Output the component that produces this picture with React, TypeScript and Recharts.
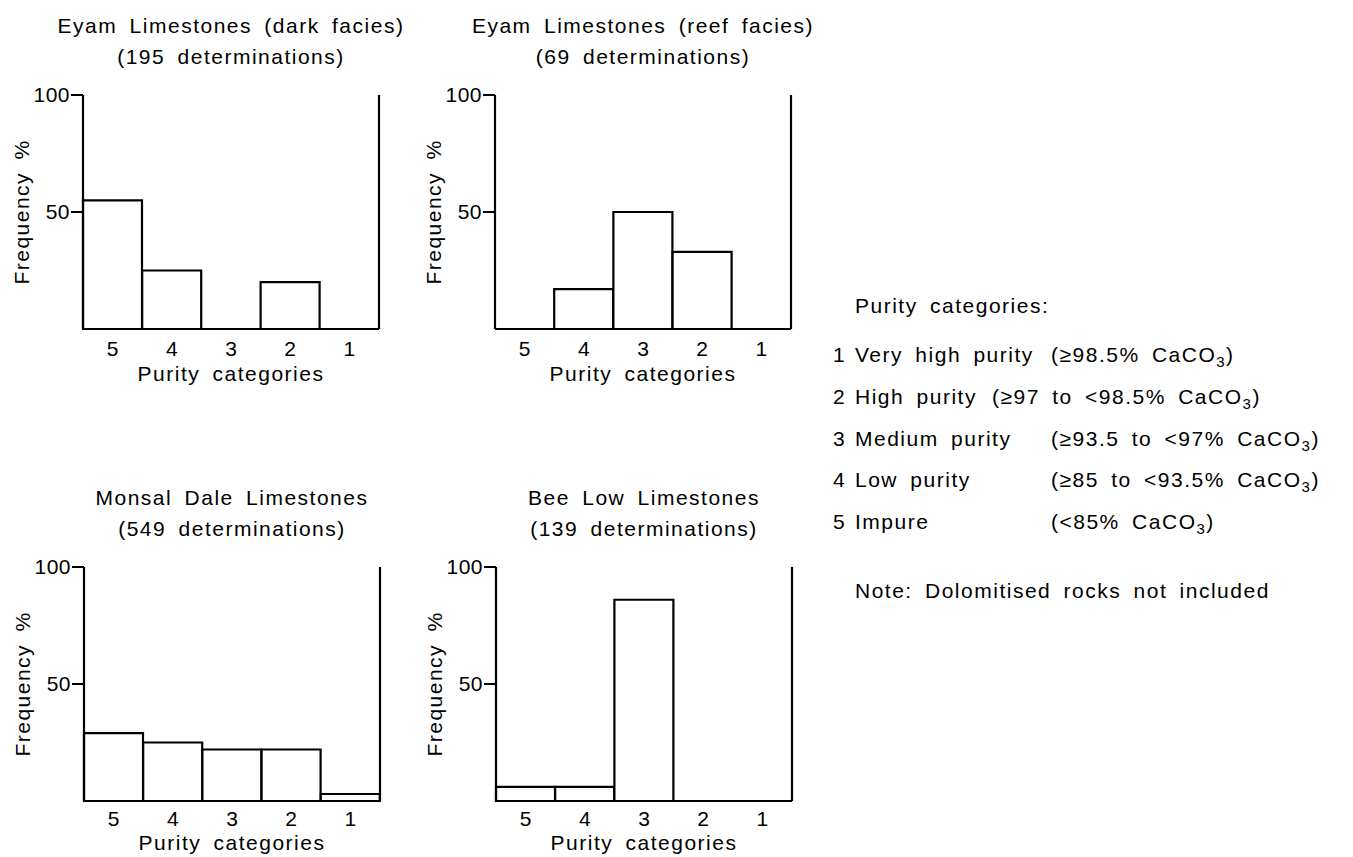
import React from 'react';
import { BarChart, Bar, XAxis, YAxis } from 'recharts';

const FONT = '"Liberation Sans", Arial, Helvetica, sans-serif';
const INK = '#000';

// purity categories, as read along the x axis
const categories = ['5', '4', '3', '2', '1'];

// frequency % per category, in the same order as categories
const darkFacies = [55, 25, 0, 20, 0];
const reefFacies = [0, 17, 50, 33, 0];
const monsalDale = [29, 25, 22, 22, 3];
const beeLow = [6, 6, 86, 0, 0];

const yTicks = [50, 100];

const legendRows = [
  { num: '1', name: 'Very high purity', range: '(≥98.5% CaCO' },
  { num: '2', name: 'High purity', range: '(≥97 to <98.5% CaCO' },
  { num: '3', name: 'Medium purity', range: '(≥93.5 to <97% CaCO' },
  { num: '4', name: 'Low purity', range: '(≥85 to <93.5% CaCO' },
  { num: '5', name: 'Impure', range: '(<85% CaCO' },
];

const toRows = (values: number[]) => categories.map((cat, i) => ({ cat, value: values[i] }));

const textProps = {
  fontFamily: FONT,
  fontSize: 21,
  fill: INK,
  letterSpacing: 1.5,
  wordSpacing: 5,
};

type PanelProps = {
  title: string;
  subtitle: string;
  values: number[];
  plotLeft: number;
  plotTop: number;
  labelDrop: number;
  tickGap: number;
};

function Panel({ title, subtitle, values, plotLeft, plotTop, labelDrop, tickGap }: PanelProps) {
  return (
    <div style={{ position: 'absolute', left: plotLeft - 83, top: plotTop - 80, width: 399, height: 374 }}>
      <svg width={399} height={80} style={{ position: 'absolute', left: 0, top: 0, overflow: 'visible' }}>
        <text x={231} y={18} textAnchor="middle" {...textProps}>{title}</text>
        <text x={231} y={49} textAnchor="middle" {...textProps}>{subtitle}</text>
      </svg>
      <BarChart
        width={399}
        height={374}
        data={toRows(values)}
        margin={{ top: 80, right: 19, left: 0, bottom: 0 }}
        barCategoryGap={0}
      >
        <XAxis
          dataKey="cat"
          height={60}
          interval={0}
          axisLine={{ stroke: '#000', strokeWidth: 2.2 }}
          tickLine={false}
          tickSize={8}
          tickMargin={tickGap}
          tick={{ fontFamily: FONT, fontSize: 21, fill: INK }}
          label={{
            content: ({ viewBox }: any) => (
              <text
                x={viewBox.x + viewBox.width / 2}
                y={viewBox.y + labelDrop}
                textAnchor="middle"
                {...textProps}
              >
                Purity categories
              </text>
            ),
          }}
        />
        <YAxis
          yAxisId="l"
          width={83}
          domain={[0, 100]}
          ticks={yTicks}
          interval={0}
          axisLine={{ stroke: '#000', strokeWidth: 2.2 }}
          tickLine={{ stroke: '#000', strokeWidth: 2 }}
          tickSize={12}
          tickMargin={1}
          tick={{ fontFamily: FONT, fontSize: 21, fill: INK, letterSpacing: 0.5 }}
          label={{
            content: ({ viewBox }: any) => {
              const x = viewBox.x + 21;
              const y = viewBox.y + viewBox.height / 2;
              return (
                <text
                  x={x}
                  y={y}
                  transform={`rotate(-90, ${x}, ${y})`}
                  textAnchor="middle"
                  dominantBaseline="central"
                  {...textProps}
                >
                  Frequency %
                </text>
              );
            },
          }}
        />
        <YAxis
          yAxisId="r"
          orientation="right"
          width={1}
          domain={[0, 100]}
          tick={false}
          tickLine={false}
          axisLine={{ stroke: '#000', strokeWidth: 2.2 }}
        />
        <Bar yAxisId="l" dataKey="value" fill="#fff" stroke="#000" strokeWidth={2.2} isAnimationActive={false} />
      </BarChart>
    </div>
  );
}

export default function App() {
  return (
    <div style={{ position: 'absolute', left: 0, top: 0, width: 1353, height: 857, background: '#fff' }}>
      <Panel
        title="Eyam Limestones (dark facies)"
        subtitle="(195 determinations)"
        values={darkFacies}
        plotLeft={83}
        plotTop={95}
        labelDrop={52}
        tickGap={4}
      />
      <Panel
        title="Eyam Limestones (reef facies)"
        subtitle="(69 determinations)"
        values={reefFacies}
        plotLeft={495}
        plotTop={95}
        labelDrop={52}
        tickGap={4}
      />
      <Panel
        title="Monsal Dale Limestones"
        subtitle="(549 determinations)"
        values={monsalDale}
        plotLeft={84}
        plotTop={567}
        labelDrop={49}
        tickGap={2}
      />
      <Panel
        title="Bee Low Limestones"
        subtitle="(139 determinations)"
        values={beeLow}
        plotLeft={496}
        plotTop={567}
        labelDrop={49}
        tickGap={2}
      />

      <svg width={533} height={340} style={{ position: 'absolute', left: 820, top: 280, overflow: 'visible' }}>
        <text x={35} y={33} {...textProps}>Purity categories:</text>
        {legendRows.map((row, i) => {
          const y = 82 + i * 41.75;
          const rangeX = i === 1 ? 172 : 231;
          return (
            <g key={row.num}>
              <text x={13} y={y} {...textProps}>{row.num}</text>
              <text x={35} y={y} {...textProps}>{row.name}</text>
              <text x={rangeX} y={y} {...textProps}>
                {row.range}
                <tspan dy={5} fontSize={15}>3</tspan>
                <tspan dy={-5}>)</tspan>
              </text>
            </g>
          );
        })}
        <text x={35} y={318} {...textProps}>Note: Dolomitised rocks not included</text>
      </svg>
    </div>
  );
}
